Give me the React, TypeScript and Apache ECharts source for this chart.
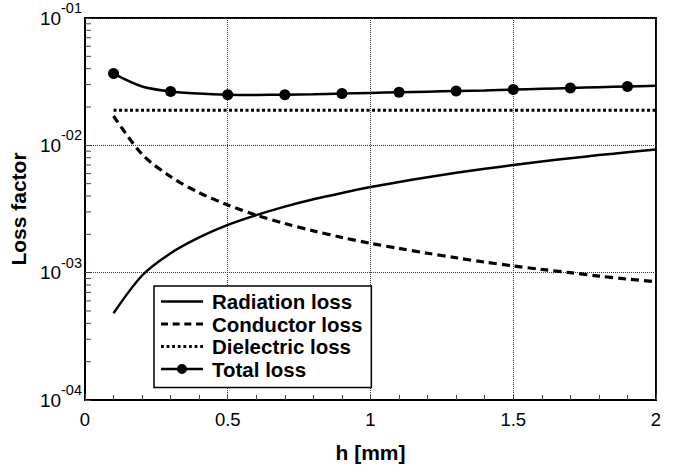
import React, { useEffect, useRef } from "react";
import * as echarts from "echarts";

const hValues = [0.1, 0.2, 0.3, 0.4, 0.5, 0.6, 0.7, 0.8, 0.9, 1.0, 1.1, 1.2, 1.3, 1.4, 1.5, 1.6, 1.7, 1.8, 1.9, 2.0];
const radiationLoss = [0.00048, 0.00095, 0.00142, 0.00189, 0.00237, 0.00283, 0.0033, 0.00377, 0.00423, 0.0047, 0.00516, 0.00562, 0.00608, 0.00654, 0.007, 0.00746, 0.00792, 0.00838, 0.00883, 0.00928];
const conductorLoss = [0.017, 0.0085, 0.00567, 0.00425, 0.0034, 0.00283, 0.00243, 0.00213, 0.00189, 0.0017, 0.00155, 0.00142, 0.00131, 0.00121, 0.00113, 0.00106, 0.001, 0.00094, 0.00089, 0.00085];
const dielectricLoss = [0.0189, 0.0189, 0.0189, 0.0189, 0.0189, 0.0189, 0.0189, 0.0189, 0.0189, 0.0189, 0.0189, 0.0189, 0.0189, 0.0189, 0.0189, 0.0189, 0.0189, 0.0189, 0.0189, 0.0189];
const totalLoss = [0.0366, 0.029, 0.0265, 0.0255, 0.025, 0.0249, 0.025, 0.0252, 0.0255, 0.0258, 0.0261, 0.0264, 0.0267, 0.027, 0.0274, 0.0278, 0.0282, 0.0286, 0.029, 0.0294];
const totalMarkerH = [0.1, 0.3, 0.5, 0.7, 0.9, 1.1, 1.3, 1.5, 1.7, 1.9];
const yMinorTicks = [
  0.0002, 0.0003, 0.0004, 0.0005, 0.0006, 0.0007, 0.0008, 0.0009,
  0.002, 0.003, 0.004, 0.005, 0.006, 0.007, 0.008, 0.009,
  0.02, 0.03, 0.04, 0.05, 0.06, 0.07, 0.08, 0.09,
];
const seriesNames = ["Radiation loss", "Conductor loss", "Dielectric loss", "Total loss"];

const FONT = "Liberation Sans, Arial, Helvetica, sans-serif";

// legend icon shapes (styling only)
const ICON_W = 42;
const solidIcon = `path://M0,0h${ICON_W}v2.5h-${ICON_W}z`;
const dashIcon = (() => {
  const n = 4, d = 7, g = (ICON_W - n * d) / (n - 1);
  let s = "path://";
  for (let i = 0; i < n; i++) s += `M${(i * (d + g)).toFixed(2)},0h${d}v3h-${d}z `;
  return s.trim();
})();
const dotIcon = (() => {
  const n = 8, d = 2.8, g = (ICON_W - n * d) / (n - 1);
  let s = "path://";
  for (let i = 0; i < n; i++) s += `M${(i * (d + g)).toFixed(2)},0h${d}v2.8h-${d}z `;
  return s.trim();
})();
const markerIcon = `path://M0,5h${ICON_W}v2.5h-${ICON_W}z M${ICON_W / 2 - 5},6.25a5,5 0 1,1 10,0a5,5 0 1,1 -10,0z`;

export default function App() {
  const ref = useRef<HTMLDivElement>(null);
  useEffect(() => {
    if (!ref.current) return;
    const chart = echarts.init(ref.current, undefined, { renderer: "svg" });
    const pairs = (vals: number[]) => hValues.map((h, i) => [h, vals[i]]);
    const totalData = hValues.map((h, i) => {
      const marked = totalMarkerH.some((m) => Math.abs(m - h) < 1e-9);
      return marked ? { value: [h, totalLoss[i]] } : { value: [h, totalLoss[i]], symbol: "none" };
    });
    const icons = [solidIcon, dashIcon, dotIcon, markerIcon];
    chart.setOption({
      animation: false,
      backgroundColor: "#fff",
      textStyle: { fontFamily: FONT },
      grid: {
        left: 83,
        top: 18,
        right: 30,
        bottom: 72,
        show: true,
        borderColor: "#000",
        borderWidth: 2,
        backgroundColor: "transparent",
      },
      legend: {
        data: seriesNames.map((n, i) => ({ name: n, icon: icons[i] })),
        orient: "vertical",
        left: 154,
        top: 286,
        padding: [5, 9, 8, 7],
        itemWidth: ICON_W,
        itemHeight: 14,
        itemGap: 1.5,
        backgroundColor: "#fff",
        borderColor: "#000",
        borderWidth: 1.5,
        borderRadius: 0,
        textStyle: { fontSize: 20.5, fontWeight: "bold", color: "#000", fontFamily: FONT, padding: [0, 0, 0, 4] },
      },
      xAxis: {
        type: "value",
        min: 0,
        max: 2,
        interval: 0.5,
        name: "h [mm]",
        nameLocation: "middle",
        nameGap: 42,
        nameTextStyle: { fontSize: 21, fontWeight: "bold", color: "#000", fontFamily: FONT },
        axisLine: { show: true, lineStyle: { color: "#000", width: 2 } },
        axisTick: { show: true, inside: true, length: 6, lineStyle: { color: "#444", width: 1 } },
        minorTick: { show: true, splitNumber: 5, length: 5, lineStyle: { color: "#444", width: 1 } },
        axisLabel: {
          fontSize: 18.5,
          color: "#000",
          margin: 10,
          fontFamily: FONT,
          formatter: (v: number) => String(v),
        },
        splitLine: { show: true, lineStyle: { color: "#333", width: 1, type: [1, 1] } },
      },
      yAxis: {
        type: "log",
        min: 0.0001,
        max: 0.1,
        logBase: 10,
        name: "Loss factor",
        nameLocation: "middle",
        nameGap: 39,
        nameRotate: 90,
        nameTextStyle: { fontSize: 21, fontWeight: "bold", color: "#000", fontFamily: FONT },
        axisLine: { show: true, lineStyle: { color: "#000", width: 2 } },
        axisTick: { show: true, inside: true, length: 6, lineStyle: { color: "#444", width: 1 } },
        axisLabel: {
          margin: 3,
          showMinLabel: true,
          showMaxLabel: true,
          formatter: (v: number) => {
            const e = Math.round(Math.log10(v));
            const s = (e < 0 ? "-" : "") + String(Math.abs(e)).padStart(2, "0");
            return "{b|10}{s|" + s + "}";
          },
          rich: {
            b: { fontSize: 19, color: "#000", fontFamily: FONT, verticalAlign: "middle", lineHeight: 35 },
            s: { fontSize: 14.5, color: "#000", fontFamily: FONT, verticalAlign: "top", lineHeight: 14 },
          },
        },
        splitLine: { show: true, lineStyle: { color: "#333", width: 1, type: [1, 1] } },
      },
      series: [
        {
          name: "Radiation loss",
          type: "line",
          data: pairs(radiationLoss),
          symbol: "none",
          smooth: 0.3,
          lineStyle: { color: "#000", width: 2.5 },
          itemStyle: { color: "#000" },
          z: 3,
        },
        {
          name: "Conductor loss",
          type: "line",
          data: pairs(conductorLoss),
          symbol: "none",
          smooth: 0.3,
          lineStyle: { color: "#000", width: 3.2, type: [8, 5] },
          itemStyle: { color: "#000" },
          z: 3,
        },
        {
          name: "Dielectric loss",
          type: "line",
          data: pairs(dielectricLoss),
          symbol: "none",
          lineStyle: { color: "#000", width: 3, type: [3, 2.5] },
          itemStyle: { color: "#000" },
          z: 3,
        },
        {
          name: "Total loss",
          type: "line",
          data: totalData,
          symbol: "circle",
          symbolSize: 11,
          smooth: 0.3,
          lineStyle: { color: "#000", width: 2.5 },
          itemStyle: { color: "#000" },
          z: 4,
        },
        {
          name: "minorTicks",
          type: "custom",
          silent: true,
          data: yMinorTicks.map((v) => [0, v]),
          renderItem: (params: any, api: any) => {
            const p = api.coord([api.value(0), api.value(1)]);
            return {
              type: "line",
              shape: { x1: p[0], y1: p[1], x2: p[0] + 6, y2: p[1] },
              style: { stroke: "#444", lineWidth: 1 },
            };
          },
          z: 2,
        },
      ],
    });
    return () => chart.dispose();
  }, []);
  return <div ref={ref} style={{ width: 686, height: 472, position: "absolute", left: 0, top: 0 }} />;
}
